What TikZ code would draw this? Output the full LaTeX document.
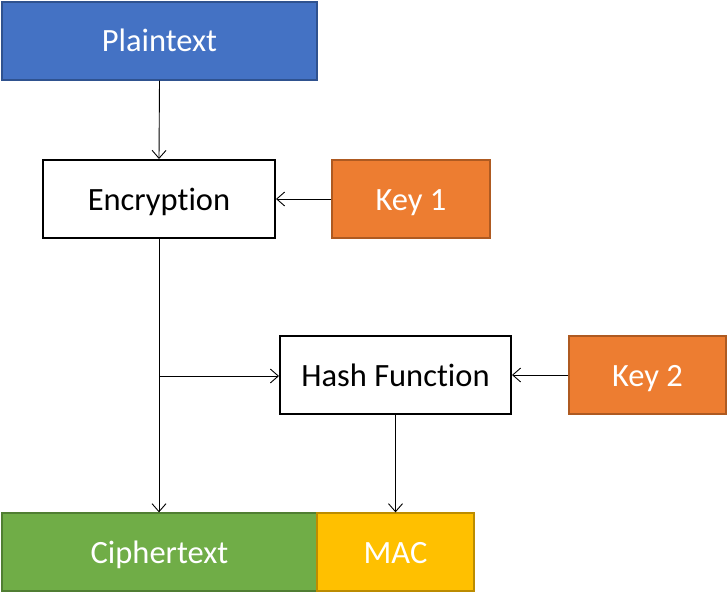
\documentclass[tikz,border=0pt]{standalone}
\usepackage{fontspec}
\setmainfont{Carlito}[RawFeature=-liga]
\usetikzlibrary{arrows.meta}
\definecolor{pblue}{HTML}{4472C4}\definecolor{pblueD}{HTML}{2F528F}
\definecolor{porange}{HTML}{ED7D31}\definecolor{porangeD}{HTML}{AE5A21}
\definecolor{pgreen}{HTML}{70AD47}\definecolor{pgreenD}{HTML}{507E32}
\definecolor{pgold}{HTML}{FFC000}\definecolor{pgoldD}{HTML}{BC8C00}
\begin{document}
\begin{tikzpicture}[x=1pt,y=-1pt,
  box/.style={draw, line width=2pt, fill=white, text=black, inner sep=0pt, text height=22pt, text depth=0pt, font=\fontsize{32.5}{36}\selectfont},
  cbox/.style={line width=1.3pt, inner sep=0pt, text=white, text height=22pt, text depth=0pt, font=\fontsize{32.5}{36}\selectfont},
  conn/.style={line width=0.9pt, -{Straight Barb[length=8pt,width=14pt,line width=0.9pt]}}]
\useasboundingbox (0,0) rectangle (728,594);
\node[cbox, draw=pblueD, fill=pblue, minimum width=315pt, minimum height=78pt] (plain) at (159.5,41) {Plaintext};
\node[box, minimum width=232pt, minimum height=78pt] (enc) at (159,199) {Encryption};
\node[cbox, draw=porangeD, fill=porange, minimum width=158pt, minimum height=78pt] (k1) at (411,199) {Key 1};
\node[box, minimum width=231pt, minimum height=78pt] (hash) at (395.5,375) {Hash Function};
\node[cbox, draw=porangeD, fill=porange, minimum width=157pt, minimum height=78pt] (k2) at (647.5,375) {Key 2};
\node[cbox, draw=pgreenD, fill=pgreen, minimum width=315pt, minimum height=78pt] (ct) at (159.5,552) {Ciphertext};
\node[cbox, draw=pgoldD, fill=pgold, minimum width=157pt, minimum height=78pt] (mac) at (395.5,552) {MAC};
\coordinate (br) at (159,376);
\draw[conn] (plain.south) -- (enc.north);
\draw[conn] (k1.west) -- (enc.east);
\draw[conn] (enc.south) -- (ct.north -| enc.south);
\draw[conn] (br) -- (br -| hash.west);
\draw[conn] (k2.west) -- (hash.east);
\draw[conn] (hash.south) -- (mac.north);
\end{tikzpicture}
\end{document}
